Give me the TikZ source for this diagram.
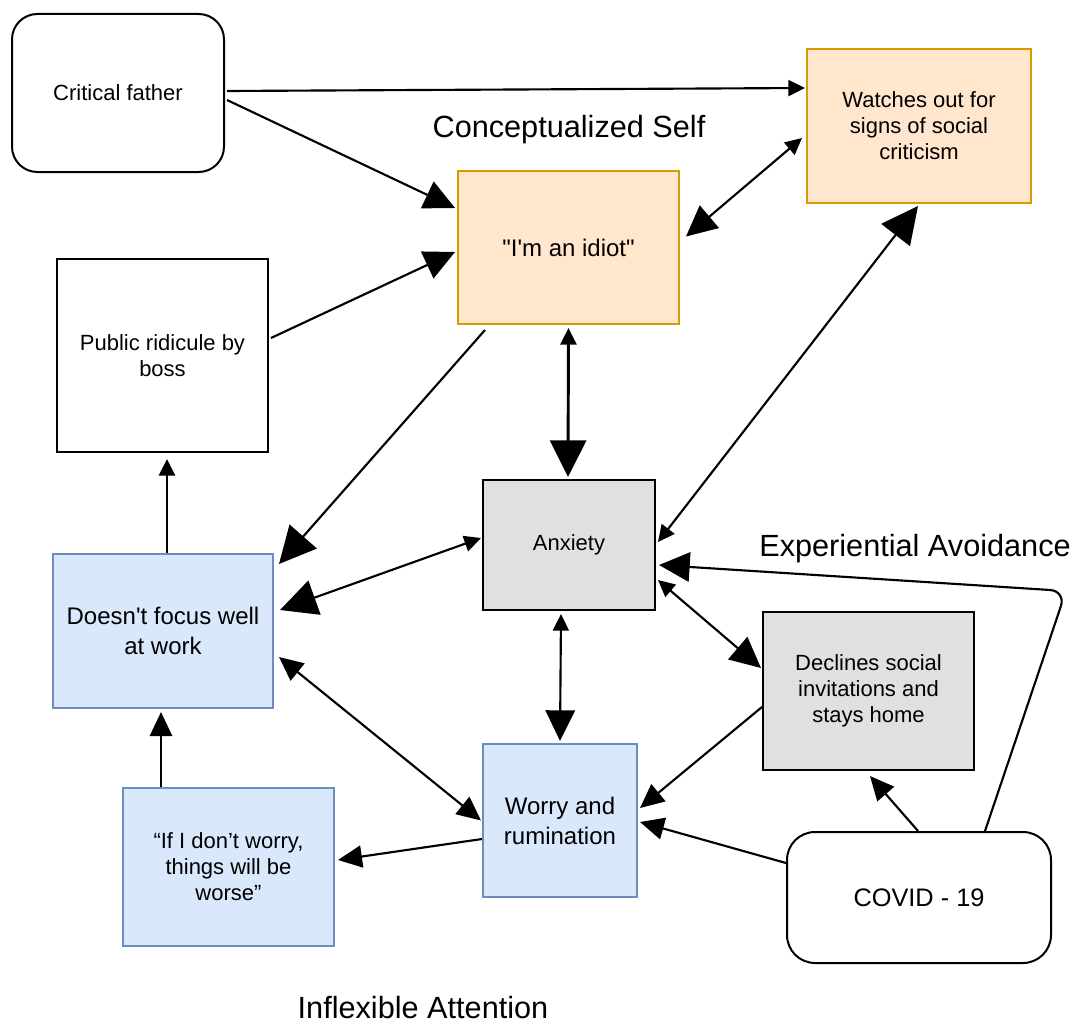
\documentclass[tikz,border=0pt]{standalone}
\usepackage{fontspec}
\setmainfont{Liberation Sans}[Ligatures=TeXOff]
\usetikzlibrary{arrows.meta,calc}
\definecolor{peachfill}{HTML}{FFE6CC}
\definecolor{peachdraw}{HTML}{D79B00}
\definecolor{bluefill}{HTML}{DAE8FC}
\definecolor{bluedraw}{HTML}{6C8EBF}
\definecolor{grayfill}{HTML}{E0E0E0}
\newcommand{\smallf}{\fontsize{16.5}{19.5}\selectfont}
\newcommand{\medf}{\fontsize{18}{22.5}\selectfont}
\newcommand{\covf}{\fontsize{19}{23}\selectfont}
\newcommand{\titlef}{\fontsize{23}{28}\selectfont}
\begin{document}
\begin{tikzpicture}[x=0.75pt,y=-0.75pt,
  box/.style={draw, line width=1.5pt, inner sep=0pt, align=center, font=\smallf},
  sz/.style 2 args={minimum width=#1*0.75pt, minimum height=#2*0.75pt},
  peach/.style={box, fill=peachfill, draw=peachdraw},
  blue/.style={box, fill=bluefill, draw=bluedraw},
  grey/.style={box, fill=grayfill, draw=black},
  plain/.style={box, fill=white, draw=black},
  ttl/.style={font=\titlef, inner sep=0pt},
  ar/.style={line width=1.6pt},
  arv/.style={line width=2.2pt},
  huge/.tip={Triangle[length=27.5pt,width=27pt]},
  big/.tip={Triangle[length=23pt,width=22pt]},
  mid/.tip={Triangle[length=18pt,width=16.5pt]},
  sml/.tip={Triangle[length=12.5pt,width=12pt]}
]
\useasboundingbox (0,0) rectangle (1075,1024);

% nodes
\node[plain, sz={212}{158}, rounded corners=19pt] (cf) at (118,93) {Critical father};
\node[peach, sz={224}{154}] (wo) at (919,126) {Watches out for\\signs of social\\criticism};
\node[peach, sz={221}{153}, font=\medf] (idiot) at (568.5,247.5) {"I'm an idiot"};
\node[plain, sz={211}{193}] (pub) at (162.5,355.5) {Public ridicule by\\boss};
\node[grey, sz={172}{130}] (anx) at (569,545) {Anxiety};
\node[blue, sz={220}{154}, font=\medf] (dfw) at (163,631) {Doesn't focus well\\at work};
\node[grey, sz={211}{158}] (dec) at (868.5,691) {Declines social\\invitations and\\stays home};
\node[blue, sz={154}{153}, font=\medf] (wor) at (560,820.5) {Worry and\\rumination};
\node[blue, sz={211}{158}] (ifi) at (228.5,867) {“If I don’t worry,\\things will be\\worse”};
\node[plain, sz={264}{131}, rounded corners=21pt, font=\covf] (cov) at (919,897.5) {COVID - 19};

% titles
\node[ttl] (t1) at (569,130) {Conceptualized Self};
\node[ttl] (t2) at (915,549) {Experiential Avoidance};
\node[ttl] (t3) at (423,1008) {Inflexible Attention};

% connectors
\draw[ar,-{sml}] ($(cf.east)+(2,-2)$) -- ($(wo.west)+(-1,-38)$);
\draw[ar,-{big}] ($(cf.east)+(2,7)$) -- ($(idiot.west)+(-2,-39.5)$);
\draw[ar,-{big}] ($(pub.east)+(2,-17.5)$) -- ($(idiot.west)+(-2,4.5)$);
\draw[ar,{big}-{sml}] ($(idiot.east)+(6,-11)$) -- ($(wo.west)+(-4,12)$);
\draw[arv,{sml}-{huge}] ($(idiot.south)+(0,3)$) -- ($(anx.north)+(-1,-2)$);
\draw[ar,-{huge}] ($(idiot.south west)+(28,5)$) -- ($(dfw.north east)+(5,11)$);
\draw[ar,{sml}-{huge}] ($(anx.east)+(2,-3)$) -- ($(wo.south)+(-1,2)$);
\draw[ar,{sml}-{huge}] ($(anx.west)+(-1,-7)$) -- ($(dfw.east)+(6,-21)$);
\draw[ar,{sml}-{big}] ($(anx.south)+(-8,3)$) -- ($(wor.north)+(0,-2)$);
\draw[ar,{sml}-{big}] ($(anx.east)+(2,35)$) -- ($(dec.west)+(-1,-23)$);
\draw[ar,-{big},rounded corners=12pt] ($(cov.north)+(66,0)$) -- ($(cov.north)+(147,-240)$) -- ($(anx.east)+(3,20)$);
\draw[ar,-{mid}] ($(cov.north)+(-1,0)$) -- ($(dec.south)+(1.5,5)$);
\draw[ar,-{mid}] ($(cov.west)+(0,-34.5)$) -- ($(wor.east)+(2,1.5)$);
\draw[ar,-{mid}] ($(dec.west)+(0,16)$) -- ($(wor.east)+(2,-12.5)$);
\draw[ar,{mid}-{mid}] ($(dfw.east)+(5,26)$) -- ($(wor.west)+(-1,0)$);
\draw[ar,-{mid}] ($(wor.west)+(0,18.5)$) -- ($(ifi.east)+(3,-7)$);
\draw[arv,-{mid}] ($(ifi.north)+(-67.5,0)$) -- ($(dfw.south)+(-2,3)$);
\draw[arv,-{sml}] ($(dfw.north)+(4,0)$) -- ($(pub.south)+(4.5,6)$);
\end{tikzpicture}
\end{document}
